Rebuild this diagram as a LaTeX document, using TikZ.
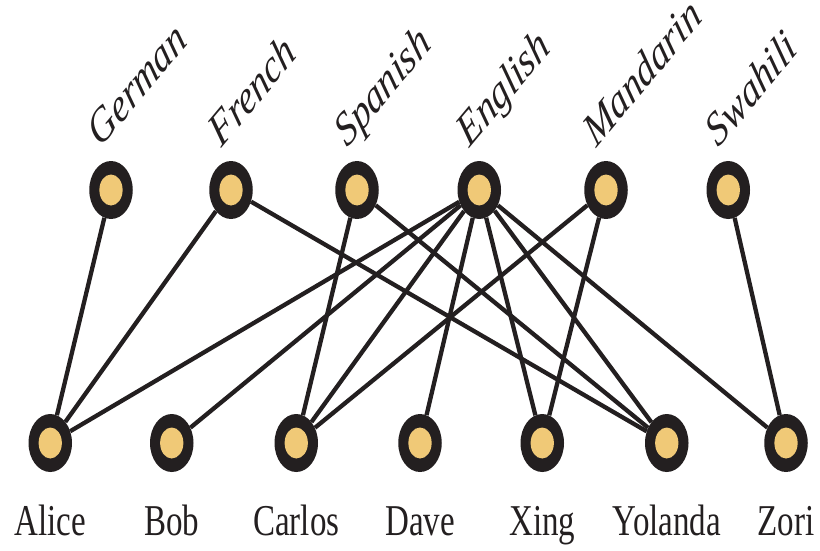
\documentclass[tikz,border=0pt]{standalone}
\usepackage{fontspec}
\usepackage{graphicx}
\setmainfont{Liberation Serif}
\usetikzlibrary{backgrounds}
\definecolor{ink}{HTML}{231F20}
\definecolor{gold}{HTML}{F0C977}
% language name: turned, then narrowed like the whole drawing
\newcommand\langlab[1]{\scalebox{0.75}[1]{\rotatebox{42}{\vphantom{Ag}#1}}}
\tikzset{
  vert/.style={circle, fill=ink, minimum size=58pt, inner sep=0pt, transform shape,
    path picture={\fill[gold] (path picture bounding box.center) circle (15.5pt);}},
  toplab/.style={anchor=south west, inner sep=0pt, text=ink,
    font=\fontsize{48}{54}\selectfont\itshape},
  botlab/.style={anchor=base, inner sep=0pt, text=ink, transform shape,
    font=\fontsize{44}{50}\selectfont},
  link/.style={draw=ink, line width=4.3pt}
}
\begin{document}
\begin{tikzpicture}[x=1pt, y=1pt, xscale=0.75]
  \useasboundingbox (0,0) rectangle (1093.33,550);
  % languages
  \foreach \nm/\x in {German/148, French/308, Spanish/476, English/639, Mandarin/808, Swahili/971} {
    \node[vert] (\nm) at (\x,360) {};
    \node[toplab] (\nm-lab) at (\x-35,394) {\langlab{\nm}};
  }
  % people
  \foreach \nm/\x in {Alice/67, Bob/229, Carlos/395, Dave/560, Xing/723, Yolanda/889, Zori/1048} {
    \node[vert] (\nm) at (\x,107) {};
    \node[botlab] (\nm-lab) at (\x,15) {\nm};
  }
  % who speaks what
  \begin{scope}[on background layer]
    \foreach \a/\b in {German/Alice, French/Alice, French/Yolanda,
      Spanish/Carlos, Spanish/Yolanda,
      English/Alice, English/Bob, English/Carlos, English/Dave,
      English/Xing, English/Yolanda, English/Zori,
      Mandarin/Carlos, Mandarin/Xing, Swahili/Zori}
      \draw[link] (\a) -- (\b);
  \end{scope}
\end{tikzpicture}
\end{document}
